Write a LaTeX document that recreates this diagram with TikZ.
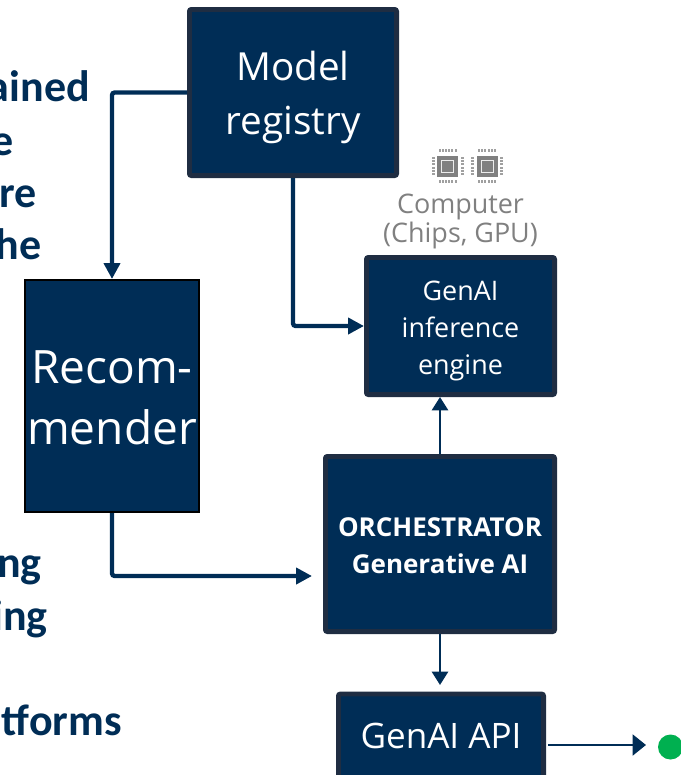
\documentclass[tikz,border=0pt]{standalone}
\usepackage{fontspec}
\setmainfont{Open Sans}
\newfontfamily\calibri{Carlito}
\usetikzlibrary{arrows.meta,calc}
\definecolor{navy}{HTML}{002D56}
\definecolor{edgedark}{HTML}{1F2D42}
\definecolor{chipgray}{HTML}{808080}
\definecolor{signalgreen}{HTML}{00B050}
\tikzset{
  x=0.75pt,y=-0.75pt,
  darkbox/.style={draw=edgedark,fill=navy,line width=3.6pt,rounded corners=1.5pt,inner sep=0pt},
  recbox/.style={draw=black,fill=navy,line width=1.5pt,inner sep=0pt},
  boxlabel/.style={text=white,align=center,inner sep=0pt},
  thick link/.style={draw=navy,line width=3.3pt,rounded corners=2pt,-{Triangle[length=12pt,width=12pt]}},
  thin link/.style={draw=navy,line width=2pt,-{Triangle[length=10pt,width=12pt]}},
  out link/.style={draw=navy,line width=2.2pt,-{Triangle[length=10pt,width=15.5pt]}},
  sidetext/.style={text=navy,anchor=base east,font=\calibri\bfseries\fontsize{33}{38}\selectfont,inner sep=0pt},
  pics/chip/.style={code={
    \fill[chipgray] (-10.5,-10.5) rectangle (10.5,10.5);
    \fill[white!85!chipgray] (-6.5,-6.5) rectangle (6.5,6.5);
    \fill[chipgray] (-5.5,-5.5) rectangle (5.5,5.5);
    \foreach \p in {-8,-4.8,-1.6,1.6,4.8,8}{
      \fill[chipgray!75] (\p-1,-17) rectangle (\p+1,-14);
      \fill[chipgray!75] (\p-1,14) rectangle (\p+1,17);
      \fill[chipgray!75] (-16,\p-1) rectangle (-13,\p+1);
      \fill[chipgray!75] (13,\p-1) rectangle (16,\p+1);
    }
  }}
}
\begin{document}
\begin{tikzpicture}
\useasboundingbox (0,0) rectangle (681,775);
\clip (0,0) rectangle (681,775);
\node[sidetext] (t1) at (90,101) {ained};
\node[sidetext] (t2) at (14,155) {e};
\node[sidetext] (t3) at (37,207) {re};
\node[sidetext] (t4) at (42,259) {he};
\node[sidetext] (t5) at (42,577) {ng};
\node[sidetext] (t6) at (48,630) {ing};
\node[sidetext] (t7) at (122,735) {tforms};

\node[darkbox,minimum width=207.2pt*0.75,minimum height=166.2pt*0.75] (model) at (293,92.5) {};
\node[boxlabel,font=\fontsize{29}{40}\selectfont] (modellabel) at (293,97.5) {Model\\registry};
\node[recbox,minimum width=174pt*0.75,minimum height=232pt*0.75] (rec) at (112,396) {};
\node[boxlabel,font=\fontsize{34.5}{46}\selectfont] (reclabel) at (112,398) {Recom-\\mender};
\node[darkbox,minimum width=188.2pt*0.75,minimum height=137.2pt*0.75] (inf) at (460.5,326) {};
\node[boxlabel,font=\fontsize{20.2}{28}\selectfont] (inflabel) at (460.5,331) {GenAI\\inference\\engine};
\node[darkbox,minimum width=229.2pt*0.75,minimum height=175.2pt*0.75] (orch) at (440,544) {};
\node[boxlabel,font=\fontsize{19.5}{28}\selectfont\bfseries] (orchlabel) at (440,545.5) {ORCHESTRATOR\\Generative AI};
\node[darkbox,minimum width=205.2pt*0.75,minimum height=100pt*0.75] (api) at (441,744) {};
\node[boxlabel,font=\fontsize{26.3}{30}\selectfont] (apilabel) at (441,736) {GenAI API};
\node[circle,fill=signalgreen,minimum size=25pt*0.75,inner sep=0pt] (dot) at (670.5,747) {};

\coordinate (orchin) at (312,576);
\coordinate (apiout) at (548,745);
\coordinate (dotin) at (646,745);

\draw[thick link] (model.west) -| (rec.north);
\draw[thick link] (model.south) |- (inf.west);
\draw[thick link] (rec.south) |- (orchin);
\draw[thin link] (orch.north) -- (orch.north |- inf.south);
\draw[thin link] (orch.south) -- (440,685);
\draw[out link] (apiout) -- (dotin);

\pic at (447.5,166) {chip};
\pic at (487,166) {chip};
\node[text=chipgray,align=center,inner sep=0pt,font=\fontsize{20.2}{22}\selectfont] (comp) at (460.5,221.5) {Computer\\(Chips, GPU)};
\end{tikzpicture}
\end{document}
